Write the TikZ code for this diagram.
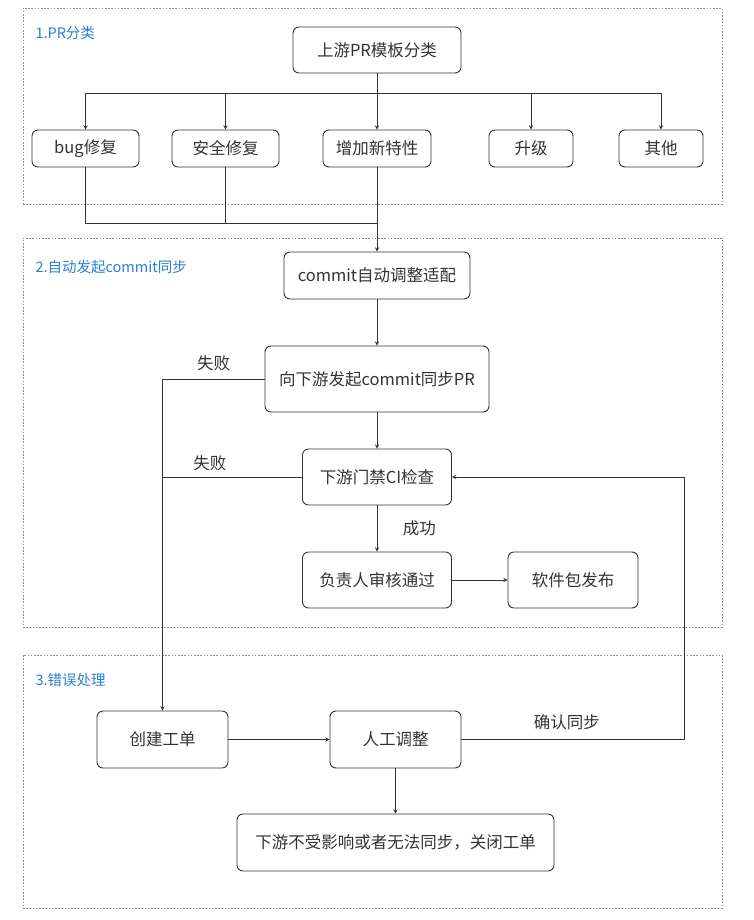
\documentclass[tikz,border=0pt]{standalone}
\usepackage{fontspec}
\setmainfont{Noto Sans CJK SC}
\definecolor{inkgray}{HTML}{333333}
\definecolor{framegray}{HTML}{8A8A8A}
\definecolor{stageblue}{HTML}{2A7FD4}
\tikzset{
    stepbox/.style={draw=inkgray, line width=0.9pt, rounded corners=6pt, text=inkgray, inner sep=0pt},
    stageframe/.style={draw=framegray, line width=0.8pt, dash pattern=on 1.6pt off 1.6pt, inner sep=0pt},
    stagelabel/.style={text=stageblue, anchor=west, font=\fontsize{14.5}{17}\selectfont},
}
\begin{document}
\begin{tikzpicture}[>=stealth, x=1pt, y=-1pt, font=\fontsize{16.5}{19}\selectfont]
    \useasboundingbox (0,0) rectangle (753,920);

    % Stage frames
    \node[stageframe, minimum width=699pt, minimum height=196pt] (g1) at (372.5,106) {};
    \node[stageframe, minimum width=699pt, minimum height=389pt] (g2) at (372.5,432.5) {};
    \node[stageframe, minimum width=699pt, minimum height=253pt] (g3) at (372.5,781.5) {};
    \node[stagelabel] (t1) at (32,33) {1.PR分类};
    \node[stagelabel] (t2) at (32,267) {2.自动发起commit同步};
    \node[stagelabel] (t3) at (32,680) {3.错误处理};

    % Nodes for PR classification
    \node[stepbox, minimum width=168pt, minimum height=46pt] (up) at (377,50) {上游PR模板分类};
    \node[stepbox, minimum width=107pt, minimum height=37pt] (bug) at (85.5,148.5) {bug修复};
    \node[stepbox, minimum width=107pt, minimum height=37pt] (safe) at (225.5,148.5) {安全修复};
    \node[stepbox, minimum width=108pt, minimum height=37pt] (feat) at (377,148.5) {增加新特性};
    \node[stepbox, minimum width=84pt, minimum height=37pt] (upg) at (531,148.5) {升级};
    \node[stepbox, minimum width=84pt, minimum height=37pt] (other) at (661,148.5) {其他};

    % Nodes for commit sync
    \node[stepbox, minimum width=186pt, minimum height=47pt] (commit) at (377,275.5) {commit自动调整适配};
    \node[stepbox, minimum width=224pt, minimum height=66pt] (pr) at (377,379) {向下游发起commit同步PR};
    \node[stepbox, minimum width=149pt, minimum height=56pt] (ci) at (377,477) {下游门禁CI检查};
    \node[stepbox, minimum width=149pt, minimum height=56pt] (review) at (377,580) {负责人审核通过};
    \node[stepbox, minimum width=130pt, minimum height=56pt] (pkg) at (573,580) {软件包发布};

    % Nodes for error handling
    \node[stepbox, minimum width=131pt, minimum height=57pt] (ticket) at (162.5,739.5) {创建工单};
    \node[stepbox, minimum width=131pt, minimum height=57pt] (manual) at (395.5,739.5) {人工调整};
    \node[stepbox, minimum width=317pt, minimum height=57pt] (close) at (395.5,842.5) {下游不受影响或者无法同步，关闭工单};

    \coordinate (merge) at (377,223);

    % Edges
    \begin{scope}[draw=inkgray, text=inkgray, line width=0.9pt]
    \draw[->] (up.south) -- ++(0,20) -| (bug);
    \draw[->] (up.south) -- ++(0,20) -| (safe);
    \draw[->] (up) -- (feat);
    \draw[->] (up.south) -- ++(0,20) -| (upg);
    \draw[->] (up.south) -- ++(0,20) -| (other);
    \draw (bug.south) |- (merge);
    \draw (safe.south) |- (merge);
    \draw[->] (feat) -- (commit);

    \draw[->] (commit) -- (pr);
    \draw[->] (pr) -- (ci);
    \draw[->] (ci) -- node[midway, right, xshift=22pt] {成功} (review);
    \draw[->] (review) -- (pkg);
    \draw[->] (pr.west) -| node[pos=0.25, above, yshift=4pt] {失败} (ticket);
    \draw (ci.west) -- (ticket |- ci.west) node[pos=0.66, above, yshift=2pt] {失败};

    \draw[->] (ticket) -- (manual);
    \draw[->] (manual) -- (close);
    \draw[->] (manual.east) -- node[midway, above, yshift=6pt, xshift=-6pt] {确认同步} ++(223,0) |- (ci);
    \end{scope}
\end{tikzpicture}
\end{document}
